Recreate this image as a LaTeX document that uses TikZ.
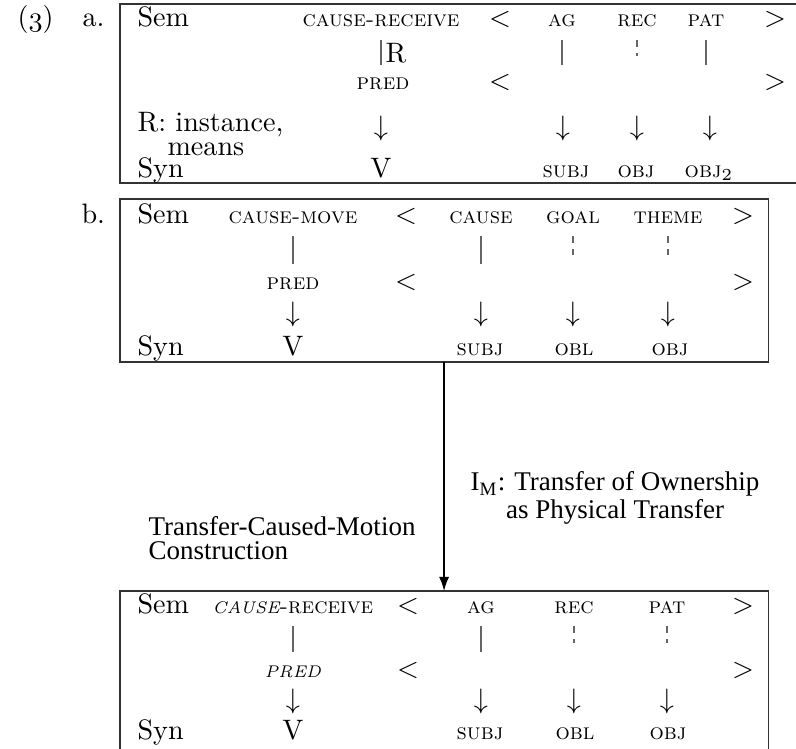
\documentclass[tikz,border=0pt]{standalone}
\usepackage{fontspec}
\newfontfamily\notefont{Liberation Serif}
\usetikzlibrary{arrows.meta}

\begin{document}
\begin{tikzpicture}[
    x=0.0125cm, y=-0.0125cm,
    % Define the styles for the entries and the lines
    txt/.style={inner sep=0pt, anchor=base},
    role/.style={txt, font=\footnotesize\scshape},
    irole/.style={txt, font=\fontsize{6}{7}\selectfont\itshape},
    frame/.style={draw=black!80, line width=0.45pt, inner sep=0pt, outer sep=0pt, anchor=north west},
    link/.style={black!60, line width=0.45pt, shorten <=0.15cm, shorten >=0.24cm},
    dlink/.style={link, dash pattern=on 2.5pt off 2.2pt, shorten >=0.35cm},
    mapping/.style={-{Latex[length=5pt,width=3.6pt]}, semithick},
    note/.style={inner sep=0pt, font=\notefont\fontsize{9.6}{8.5}\selectfont},
  ]
  \useasboundingbox (0,0) rectangle (796,749);

  % Frames
  \node[frame, minimum width=8.5cm, minimum height=2.2375cm] (aBox) at (120,4) {};
  \node[frame, minimum width=8.1cm, minimum height=2.0375cm] (bBox) at (120,199) {};
  \node[frame, minimum width=8.1cm, minimum height=2.1125cm] (cBox) at (120,591) {};

  % Example numbers
  \node[txt, anchor=base west] (num) at (17,27) {({\usefont{OML}{cmm}{m}{it}3})};
  \node[txt, anchor=base west] (aLab) at (82,27) {a.};
  \node[txt, anchor=base west] (bLab) at (81,223) {b.};

  % (a) Sem row
  \node[txt, anchor=base west] (aSem) at (137,27) {Sem};
  \node[role] (aVerb) at (381,27) {cause-receive};
  \node[txt] (aLt) at (500,27) {$<$};
  \foreach \n/\x in {ag/562, rec/637, pat/706}
    \node[role] (a-\n) at (\x,27) {\n};
  \node[txt] (aGt) at (775,27) {$>$};

  % (a) PRED row
  \node[txt, anchor=base west] (aR) at (385,62) {R};
  \node[role] (aPred) at (383,90) {pred};
  \node[txt] (aLt2) at (500,90) {$<$};
  \node[txt] (aGt2) at (775,90) {$>$};
  \node[txt, anchor=base west] (aRel) at (137,131) {R: instance,};
  \node[txt, anchor=base west] (aMeans) at (167,155) {means};

  % (a) Syn row
  \node[txt, anchor=base west] (aSyn) at (137,177) {Syn};
  \node[txt] (aV) at (381,177) {V};
  \foreach \n/\x/\t in {subj/566/subj, obj/636/obj, objb/709/obj$_2$}
    \node[role] (a-\n) at (\x,177) {\t};
  \foreach \x [count=\i] in {381,563,637,710}
    \node[inner sep=0pt] (aDn\i) at (\x,128) {$\downarrow$};

  % (a) links
  \draw[link] (aVerb) -- (aVerb |- aPred);
  \draw[link] (a-ag) -- (a-ag |- aPred);
  \draw[dlink] (a-rec) -- (a-rec |- aPred);
  \draw[link] (a-pat) -- (a-pat |- aPred);

  % (b) Sem row
  \node[txt, anchor=base west] (bSem) at (137,223) {Sem};
  \node[role] (bVerb) at (293,223) {cause-move};
  \node[txt] (bLt) at (406,223) {$<$};
  \foreach \n/\x in {cause/481, goal/573, theme/668}
    \node[role] (b-\n) at (\x,223) {\n};
  \node[txt] (bGt) at (743,223) {$>$};

  % (b) PRED row
  \node[role] (bPred) at (293,289) {pred};
  \node[txt] (bLt2) at (406,289) {$<$};
  \node[txt] (bGt2) at (743,289) {$>$};

  % (b) Syn row
  \node[txt, anchor=base west] (bSyn) at (137,355) {Syn};
  \node[txt] (bV) at (293,355) {V};
  \foreach \n/\x in {subj/480, obl/574, obj/670}
    \node[role] (b-\n) at (\x,355) {\n};
  \foreach \x [count=\i] in {293,481,573,668}
    \node[inner sep=0pt] (bDn\i) at (\x,314) {$\downarrow$};

  % (b) links
  \draw[link] (bVerb) -- (bVerb |- bPred);
  \draw[link] (b-cause) -- (b-cause |- bPred);
  \draw[dlink] (b-goal) -- (b-goal |- bPred);
  \draw[dlink] (b-theme) -- (b-theme |- bPred);

  % Mapping from (b) to the fused construction
  \draw[mapping] (bBox.south) -- (bBox.south |- cBox.north);
  \node[note, align=center] (imLab) at (615,498)
    {I\textsubscript{M}: Transfer of Ownership\\as Physical Transfer};
  \node[note, align=left, anchor=west] (tcmLab) at (148,538)
    {Transfer-Caused-Motion\\Construction};

  % (c) Sem row
  \node[txt, anchor=base west] (cSem) at (137,613) {Sem};
  \node[role] (cVerb) at (293,613)
    {{\normalfont\itshape\fontsize{6}{7}\selectfont CAUSE}-receive};
  \node[txt] (cLt) at (408,613) {$<$};
  \foreach \n/\x in {ag/481, rec/574, pat/667}
    \node[role] (c-\n) at (\x,613) {\n};
  \node[txt] (cGt) at (743,613) {$>$};

  % (c) PRED row
  \node[irole] (cPred) at (293,677) {PRED};
  \node[txt] (cLt2) at (408,677) {$<$};
  \node[txt] (cGt2) at (743,677) {$>$};

  % (c) Syn row
  \node[txt, anchor=base west] (cSyn) at (137,739) {Syn};
  \node[txt] (cV) at (293,739) {V};
  \foreach \n/\x in {subj/480, obl/575, obj/668}
    \node[role] (c-\n) at (\x,739) {\n};
  \foreach \x [count=\i] in {293,481,574,667}
    \node[inner sep=0pt] (cDn\i) at (\x,701) {$\downarrow$};

  % (c) links
  \draw[link] (cVerb) -- (cVerb |- cPred);
  \draw[link] (c-ag) -- (c-ag |- cPred);
  \draw[dlink] (c-rec) -- (c-rec |- cPred);
  \draw[dlink] (c-pat) -- (c-pat |- cPred);
\end{tikzpicture}
\end{document}
